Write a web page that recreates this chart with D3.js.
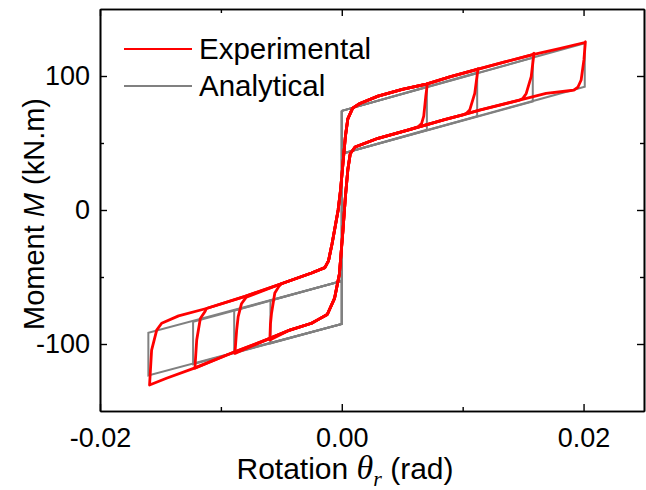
<!DOCTYPE html>
<html>
<head>
<meta charset="utf-8">
<script src="https://cdn.jsdelivr.net/npm/d3@7"></script>
<style>
  body { margin: 0; background: #fff; }
  text { font-family: "Liberation Sans", Arial, sans-serif; }
</style>
</head>
<body>
<div id="chart"></div>
<script>
// tick values / labels
var xTickVals = [-0.02, 0, 0.02];
var xTickLabels = ["-0.02", "0.00", "0.02"];
var xMinorTicks = [-0.01, 0.01];
var yTickVals = [-100, 0, 100];
var yTickLabels = ["-100", "0", "100"];
var yMinorTicks = [-50, 50];

// analytical model (gray)
var anaZero = [74, 42, -85, -53]; // M at theta=0: pos load, pos unload, neg load, neg unload
var anaPosAmp = [0.00704, 0.0112, 0.0158, 0.0201];
var anaPosTop = [92, 102.5, 113.5, 124.5];
var anaPosBot = [60, 70, 81, 92];
var anaNegAmp = [-0.0059, -0.0089, -0.0123, -0.016];
var anaNegBot = [-99.5, -106.5, -115, -123.4];
var anaNegTop = [-67.5, -75, -83.5, -91.7];

// experimental (red) branches
var expLoadLine = [[-0.0014,-43],[-0.0011,-38],[-0.0008,-25],[-0.0005,-10],[-0.0003,0],[-0.0001,15],[0.0001,35],[0.0003,55],[0.0005,68],[0.0009,76],[0.0015,79.5]];
var expUpperPos = [[0.003,85],[0.005,90],[0.007,94],[0.009,99.5],[0.0112,105],[0.0135,110.5],[0.0158,116],[0.018,120.5],[0.0201,125]];
var expLowerPos = [[0.0011,47],[0.003,53.5],[0.0056,60],[0.0085,67.5],[0.01,71],[0.0114,74.6],[0.0147,82],[0.0169,87],[0.0188,89]];
var expUnloadLine = [[0.0011,47],[0.0007,42],[0.0005,30],[0.0003,10],[0.0001,-15],[-0.0002,-48],[-0.0006,-66],[-0.0012,-78],[-0.002,-82]];
var expLowerNeg = [[-0.0025,-84.5],[-0.0043,-89.6],[-0.006,-96],[-0.0089,-106],[-0.0122,-118],[-0.0145,-125.6],[-0.0159,-130.6]];
var expUpperNeg = [[-0.0014,-43],[-0.0025,-47],[-0.005,-55],[-0.008,-64.5],[-0.0112,-73.5],[-0.0135,-79],[-0.015,-83.5]];
var expPosTurns = [
  [[0.00708,94],[0.00695,85],[0.00678,70],[0.0066,64.5],[0.0063,62]],
  [[0.01127,105.5],[0.011,87],[0.01058,74.6],[0.0103,72]],
  [[0.0159,117],[0.01567,99.5],[0.01526,87],[0.0150,83.5]],
  [[0.02015,125.5],[0.02003,112],[0.0198,97],[0.01953,91.6],[0.0192,89.5]]
];
var expNegTurns = [
  [[-0.00595,-97],[-0.0059,-85],[-0.00581,-77],[-0.00554,-62],[-0.0052,-57]],
  [[-0.00884,-107],[-0.0087,-90],[-0.00857,-79.6],[-0.0083,-70],[-0.0079,-65]],
  [[-0.01215,-118],[-0.012,-97],[-0.0117,-81],[-0.0113,-75.5]],
  [[-0.0159,-130.6],[-0.01573,-104.5],[-0.01531,-89.6],[-0.0149,-84.5]]
];

var W = 646, H = 490;
var svg = d3.select('#chart').append('svg')
  .attr('width', W)
  .attr('height', H);

var x = d3.scaleLinear().domain([-0.02, 0.025]).range([100, 644]);
var y = d3.scaleLinear().domain([-150, 150]).range([411, 9]);

var line = d3.line().x(function(d) { return x(d[0]); }).y(function(d) { return y(d[1]); });

//ANALYTICAL
for (var i = 0; i < anaPosAmp.length; i++) {
  var pts = [
    [0, anaZero[0]], [anaPosAmp[i], anaPosTop[i]], [anaPosAmp[i], anaPosBot[i]], [0, anaZero[1]],
    [0, anaZero[2]], [anaNegAmp[i], anaNegBot[i]], [anaNegAmp[i], anaNegTop[i]], [0, anaZero[3]],
    [0, anaZero[0]]
  ];
  svg.append('path').attr('d', line(pts))
    .attr('fill', 'none').attr('stroke', '#808080').attr('stroke-width', 2)
    .attr('stroke-linejoin', 'miter');
}

//EXPERIMENTAL
for (var i = 0; i < expPosTurns.length; i++) {
  var pt = expPosTurns[i], nt = expNegTurns[i];
  var pEnd = pt[pt.length - 1][0], nEnd = nt[nt.length - 1][0];
  var pts = [].concat(
    expLoadLine,
    expUpperPos.filter(function(p) { return p[0] < pt[0][0]; }),
    pt,
    expLowerPos.filter(function(p) { return p[0] < pEnd; }).reverse(),
    expUnloadLine,
    expLowerNeg.filter(function(p) { return p[0] > nt[0][0]; }),
    nt,
    expUpperNeg.filter(function(p) { return p[0] > nEnd; }).reverse()
  );
  svg.append('path').attr('d', line(pts) + 'Z')
    .attr('fill', 'none').attr('stroke', '#ff0000').attr('stroke-width', 2.8)
    .attr('stroke-linejoin', 'round');
}

//AXES
function noLabel() { return ''; }
svg.append('g').attr('transform', 'translate(0,' + y(-150) + ')')
  .call(d3.axisBottom(x).tickValues(xTickVals).tickSizeInner(-7).tickSizeOuter(0).tickPadding(17)
    .tickFormat(function(d, i) { return xTickLabels[i]; }));
svg.append('g').attr('transform', 'translate(0,' + y(-150) + ')')
  .call(d3.axisBottom(x).tickValues(xMinorTicks).tickSizeInner(-4).tickSizeOuter(0).tickFormat(noLabel));
svg.append('g').attr('transform', 'translate(0,' + y(150) + ')')
  .call(d3.axisTop(x).tickValues(xTickVals).tickSizeInner(-7).tickSizeOuter(0).tickFormat(noLabel));
svg.append('g').attr('transform', 'translate(0,' + y(150) + ')')
  .call(d3.axisTop(x).tickValues(xMinorTicks).tickSizeInner(-4).tickSizeOuter(0).tickFormat(noLabel));
svg.append('g').attr('transform', 'translate(' + x(-0.02) + ',0)')
  .call(d3.axisLeft(y).tickValues(yTickVals).tickSizeInner(-7).tickSizeOuter(0).tickPadding(10)
    .tickFormat(function(d, i) { return yTickLabels[i]; }));
svg.append('g').attr('transform', 'translate(' + x(-0.02) + ',0)')
  .call(d3.axisLeft(y).tickValues(yMinorTicks).tickSizeInner(-4).tickSizeOuter(0).tickFormat(noLabel));
svg.append('g').attr('transform', 'translate(' + x(0.025) + ',0)')
  .call(d3.axisRight(y).tickValues(yTickVals).tickSizeInner(-7).tickSizeOuter(0).tickFormat(noLabel));
svg.append('g').attr('transform', 'translate(' + x(0.025) + ',0)')
  .call(d3.axisRight(y).tickValues(yMinorTicks).tickSizeInner(-4).tickSizeOuter(0).tickFormat(noLabel));

svg.selectAll('.domain').attr('stroke', '#000').attr('stroke-width', 1.6);
svg.selectAll('.tick line').attr('stroke', '#000').attr('stroke-width', 1.4);
svg.selectAll('.tick text').attr('fill', '#000')
  .style('font-family', '"Liberation Sans", Arial, sans-serif').style('font-size', '27px');

//AXIS TITLES
var xt = svg.append('text').attr('x', 345).attr('y', 479).attr('text-anchor', 'middle')
  .style('font-size', '30px').attr('fill', '#000');
xt.append('tspan').text('Rotation ');
xt.append('tspan').text('\u03B8').style('font-family', '"Liberation Serif", serif').style('font-style', 'italic').style('font-size', '34px');
xt.append('tspan').text('r').attr('dy', 7).style('font-family', '"Liberation Serif", serif').style('font-style', 'italic').style('font-size', '22px');
xt.append('tspan').text(' (rad)').attr('dy', -7);

var yt = svg.append('text').attr('transform', 'translate(44,214) rotate(-90)').attr('text-anchor', 'middle')
  .style('font-size', '29px').attr('fill', '#000');
yt.append('tspan').text('Moment ');
yt.append('tspan').text('M').style('font-style', 'italic');
yt.append('tspan').text(' (kN.m)');

//LEGEND
var legendNames = ["Experimental", "Analytical"];
var legendColors = ["#ff0000", "#808080"];
for (var i = 0; i < legendNames.length; i++) {
  var ly = 49 + i * 37;
  svg.append('line').attr('x1', 124).attr('x2', 192).attr('y1', ly).attr('y2', ly)
    .attr('stroke', legendColors[i]).attr('stroke-width', 2.2);
  svg.append('text').attr('x', 199).attr('y', ly + 10).text(legendNames[i])
    .style('font-size', '29.5px').attr('fill', '#000');
}
</script>
</body>
</html>
